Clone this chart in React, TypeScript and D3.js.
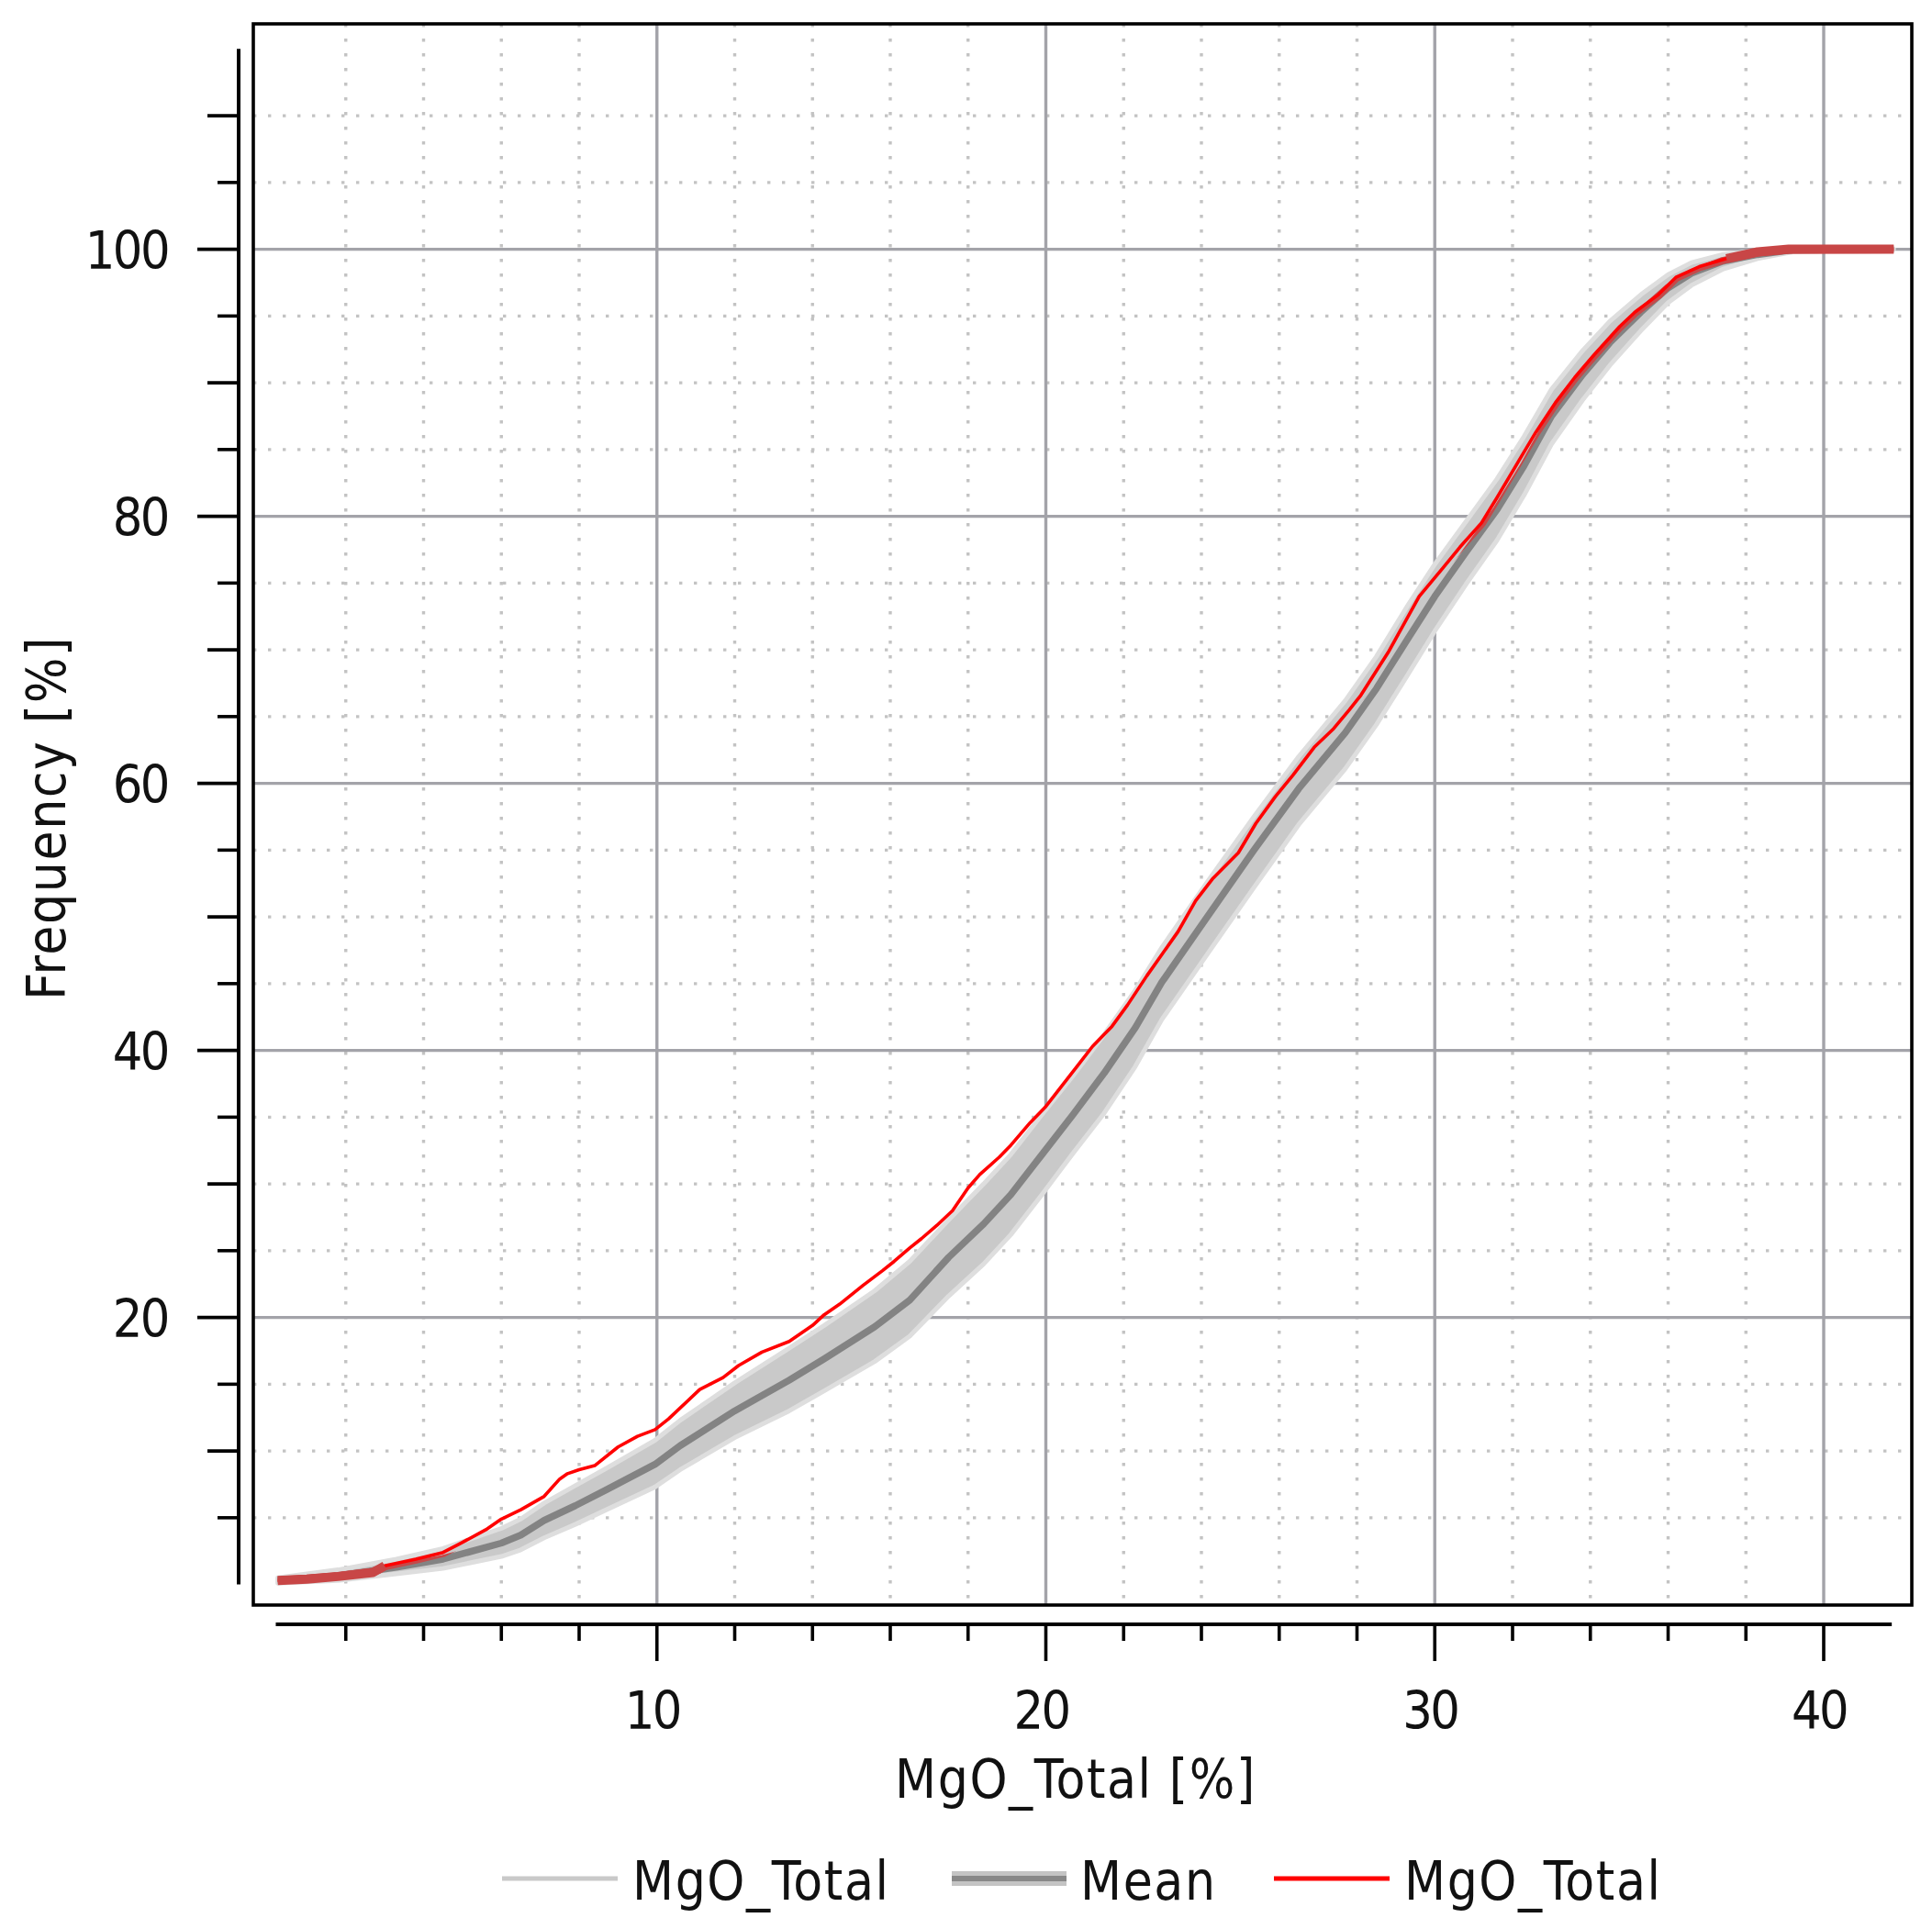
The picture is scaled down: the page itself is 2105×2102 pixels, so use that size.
import React from 'react';
import * as d3 from 'd3';

// observed cumulative frequency (red)
const redMgO = [
  0.25, 1.0, 1.8, 2.7, 3.0, 3.8, 4.5, 4.9, 5.6, 6.0, 6.5, 7.1, 7.5, 7.7, 8.0, 8.4,
  9.0, 9.5, 9.95, 10.3, 11.1, 11.7, 12.1, 12.7, 13.4, 14.0, 14.3, 14.7, 15.3, 15.8,
  16.1, 16.5, 16.8, 17.2, 17.6, 18.0, 18.3, 18.8, 19.1, 19.6, 20.0, 20.4, 20.8, 21.2,
  21.7, 22.1, 22.6, 23.4, 23.85, 24.3, 24.95, 25.4, 25.9, 26.35, 26.9, 27.4, 27.8,
  28.1, 28.8, 29.6, 30.2, 30.65, 31.2, 31.6, 32.15, 32.6, 33.1, 33.6, 34.1, 34.75,
  35.15, 35.75, 36.2, 36.8, 37.5, 38.3, 39.1, 41.8,
];
const redFreq = [
  0.3, 0.4, 0.6, 0.9, 1.4, 1.9, 2.4, 3.0, 4.1, 4.9, 5.6, 6.6, 7.9, 8.3, 8.6, 8.9,
  10.3, 11.1, 11.6, 12.4, 14.6, 15.5, 16.4, 17.4, 18.2, 19.4, 20.2, 21.0, 22.4, 23.5,
  24.2, 25.2, 25.9, 26.9, 28.0, 29.7, 30.7, 32.0, 32.9, 34.6, 35.8, 37.3, 38.8, 40.3,
  41.8, 43.4, 45.6, 48.9, 51.2, 52.9, 54.8, 57.0, 59.0, 60.6, 62.7, 64.1, 65.5,
  66.6, 69.8, 74.0, 76.1, 77.7, 79.5, 81.4, 84.1, 86.3, 88.5, 90.4, 92.1, 94.2,
  95.3, 96.6, 97.9, 98.7, 99.3, 99.8, 100, 100,
];

// simulated curves: mean and envelope of the grey bundle
const meanMgO = [
  0.25, 1.0, 1.8, 3.3, 4.5, 6.0, 6.5, 7.1, 7.9, 8.7, 9.95, 10.6, 12.0, 13.4, 14.3,
  15.6, 16.5, 17.5, 18.4, 19.1, 19.9, 20.7, 21.5, 22.3, 22.98, 24.15, 25.35, 26.5,
  27.7, 28.5, 29.3, 30.0, 30.8, 31.6, 32.3, 33.0, 33.8, 34.5, 35.3, 36.0, 36.6, 37.4,
  38.3, 39.2, 41.8,
];
const meanFreq = [
  0.3, 0.45, 0.65, 1.3, 1.9, 3.1, 3.7, 4.8, 5.9, 7.1, 9.0, 10.4, 13.0, 15.3, 16.9,
  19.3, 21.3, 24.5, 27.0, 29.2, 32.2, 35.2, 38.3, 41.7, 45.1, 50.0, 55.0, 59.6,
  63.8, 67.1, 70.8, 74.0, 77.3, 80.5, 83.8, 87.5, 90.6, 93.0, 95.3, 97.1, 98.2, 99.1,
  99.6, 99.95, 100,
];
const simLow = [
  0.1, 0.2, 0.3, 0.8, 1.2, 2.1, 2.6, 3.5, 4.5, 5.6, 7.3, 8.6, 11.0, 13.0, 14.5,
  16.7, 18.6, 21.6, 24.0, 26.2, 29.2, 32.3, 35.3, 38.8, 42.3, 47.2, 52.2, 56.9,
  61.1, 64.4, 68.1, 71.4, 74.9, 78.2, 81.6, 85.4, 88.7, 91.3, 93.9, 96.0, 97.3, 98.5,
  99.3, 99.8, 100,
];
const simHigh = [
  0.5, 0.8, 1.1, 1.9, 2.7, 4.2, 4.9, 6.1, 7.4, 8.7, 10.8, 12.3, 15.1, 17.7, 19.4,
  22.0, 24.2, 27.3, 30.0, 32.2, 35.2, 38.1, 41.2, 44.5, 47.7, 52.6, 57.5, 62.0,
  66.2, 69.5, 73.3, 76.4, 79.6, 82.8, 86.0, 89.5, 92.4, 94.6, 96.6, 98.1, 99.0, 99.6,
  99.9, 100, 100,
];

const xLabels = [10, 20, 30, 40];
const yLabels = [20, 40, 60, 80, 100];
const legendNames = ['MgO_Total', 'Mean', 'MgO_Total'];

const W = 2105;
const H = 2102;
const frame = { left: 276, top: 26, right: 2083, bottom: 1749 };
const FONT = "'DejaVu Sans Condensed', 'DejaVu Sans', sans-serif";
const TEXT = '#111';

const x = d3.scaleLinear().domain([0, 40]).range([292, 1987]);
const y = d3.scaleLinear().domain([0, 100]).range([1726.6, 271.6]);

const xMinor = d3.range(2, 40, 2).filter((v) => v % 10 !== 0);
const yMinor = d3.range(5, 111, 5).filter((v) => v % 20 !== 0);
const xTicks = d3.range(2, 41, 2);
const yTicks = d3.range(5, 111, 5);

const redPts = redMgO.map((v, i) => [v, redFreq[i]] as [number, number]);
const meanPts = meanMgO.map((v, i) => [v, meanFreq[i]] as [number, number]);
const bandPts = meanMgO.map((v, i) => ({ x: v, lo: simLow[i], hi: simHigh[i] }));

// where the observed curve sits on the mean, both blend into a thick dark red stroke
const meanAt = (v: number) => {
  const i = Math.max(1, Math.min(meanMgO.length - 1, d3.bisectLeft(meanMgO, v)));
  const t = (v - meanMgO[i - 1]) / (meanMgO[i] - meanMgO[i - 1]);
  return meanFreq[i - 1] + t * (meanFreq[i] - meanFreq[i - 1]);
};
const overlapRuns: [number, number][][] = [];
{
  let run: [number, number][] = [];
  redPts.forEach((p) => {
    if (Math.abs(p[1] - meanAt(p[0])) <= 0.25) run.push(p);
    else {
      if (run.length > 1) overlapRuns.push(run);
      run = [];
    }
  });
  if (run.length > 1) overlapRuns.push(run);
}

const line = d3
  .line<[number, number]>()
  .x((d) => x(d[0]))
  .y((d) => y(d[1]));

const area = d3
  .area<{ x: number; lo: number; hi: number }>()
  .x((d) => x(d.x))
  .y0((d) => y(d.lo))
  .y1((d) => y(d.hi));

const labelStyle = { fontSize: 57, fontStretch: 'condensed' as const, letterSpacing: -2.5 };
const titleStyle = { fontSize: 58, fontStretch: 'condensed' as const, letterSpacing: 1.6 };

export default function App() {
  const redPath = line(redPts) || '';
  const meanPath = line(meanPts) || '';
  const bandPath = area(bandPts) || '';

  const axisY = 1770;
  const axisX = 260;

  const legendY = 2047;
  const legendItems = [
    { x0: 547, x1: 673, tx: 689 },
    { x0: 1037, x1: 1162, tx: 1177 },
    { x0: 1388, x1: 1514, tx: 1530 },
  ];

  return (
    <svg
      width={W}
      height={H}
      viewBox={`0 0 ${W} ${H}`}
      style={{ position: 'absolute', left: 0, top: 0, background: '#fff' }}
      fontFamily={FONT}
    >
      <style>{'body{margin:0}'}</style>
      <defs>
        <clipPath id="plotClip">
          <rect
            x={frame.left}
            y={frame.top}
            width={frame.right - frame.left}
            height={frame.bottom - frame.top}
          />
        </clipPath>
        <mask id="meanMask" maskUnits="userSpaceOnUse" x={0} y={0} width={W} height={H}>
          <rect x={0} y={0} width={W} height={H} fill="black" />
          <path d={meanPath} fill="none" stroke="white" strokeWidth={9} />
        </mask>
      </defs>

      <rect x={0} y={0} width={W} height={H} fill="#fff" />

      {/* grid */}
      <g clipPath="url(#plotClip)">
        {xMinor.map((v) => (
          <line
            key={'xm' + v}
            x1={x(v)}
            x2={x(v)}
            y1={frame.top}
            y2={frame.bottom}
            stroke="#c3c3c3"
            strokeWidth={3.4}
            strokeDasharray="3.4 12.6"
          />
        ))}
        {yMinor.map((v) => (
          <line
            key={'ym' + v}
            x1={frame.left}
            x2={frame.right}
            y1={y(v)}
            y2={y(v)}
            stroke="#c3c3c3"
            strokeWidth={3.4}
            strokeDasharray="3.4 12.6"
          />
        ))}
        {xLabels.map((v) => (
          <line
            key={'xg' + v}
            x1={x(v)}
            x2={x(v)}
            y1={frame.top}
            y2={frame.bottom}
            stroke="#a3a3a9"
            strokeWidth={3.4}
          />
        ))}
        {yLabels.map((v) => (
          <line
            key={'yg' + v}
            x1={frame.left}
            x2={frame.right}
            y1={y(v)}
            y2={y(v)}
            stroke="#a3a3a9"
            strokeWidth={3.4}
          />
        ))}

        {/* simulated bundle */}
        <path d={bandPath} fill="#c9c9c9" stroke="#dedede" strokeWidth={5} strokeLinejoin="round" />
        <path d={meanPath} fill="none" stroke="#838383" strokeWidth={7.5} strokeLinejoin="round" />
        <path
          d={redPath}
          fill="none"
          stroke="#c64848"
          strokeWidth={10}
          strokeLinejoin="round"
          mask="url(#meanMask)"
        />
        <path d={redPath} fill="none" stroke="#ff0000" strokeWidth={3.6} strokeLinejoin="round" />
        {overlapRuns.map((run, i) => (
          <path
            key={'ov' + i}
            d={line(run) || ''}
            fill="none"
            stroke="#c84646"
            strokeWidth={10}
            strokeLinejoin="round"
          />
        ))}
      </g>

      {/* frame */}
      <rect
        x={frame.left}
        y={frame.top}
        width={frame.right - frame.left}
        height={frame.bottom - frame.top}
        fill="none"
        stroke="#000"
        strokeWidth={3.6}
      />

      {/* y axis */}
      <line x1={axisX} x2={axisX} y1={y(0)} y2={y(115)} stroke="#000" strokeWidth={4} />
      {yTicks.map((v) => {
        const len = v % 20 === 0 ? 45 : v % 10 === 0 ? 34 : 23;
        return (
          <line
            key={'yt' + v}
            x1={axisX - len}
            x2={axisX}
            y1={y(v)}
            y2={y(v)}
            stroke="#000"
            strokeWidth={3.6}
          />
        );
      })}
      {yLabels.map((v) => (
        <text key={'yl' + v} x={183} y={y(v) + 21} textAnchor="end" fill={TEXT} style={labelStyle}>
          {v}
        </text>
      ))}
      <text
        transform={`translate(71, ${(frame.top + frame.bottom) / 2 + 4}) rotate(-90)`}
        textAnchor="middle"
        fill={TEXT}
        style={titleStyle}
      >
        Frequency [%]
      </text>

      {/* x axis */}
      <line x1={x(0.2)} x2={x(41.75)} y1={axisY} y2={axisY} stroke="#000" strokeWidth={4} />
      {xTicks.map((v) => {
        const len = v % 10 === 0 ? 40 : 18;
        return (
          <line
            key={'xt' + v}
            x1={x(v)}
            x2={x(v)}
            y1={axisY}
            y2={axisY + len}
            stroke="#000"
            strokeWidth={3.6}
          />
        );
      })}
      {xLabels.map((v) => (
        <text key={'xl' + v} x={x(v) - 5} y={1884} textAnchor="middle" fill={TEXT} style={labelStyle}>
          {v}
        </text>
      ))}
      <text x={1172} y={1959} textAnchor="middle" fill={TEXT} style={titleStyle}>
        MgO_Total [%]
      </text>

      {/* legend */}
      <line
        x1={legendItems[0].x0}
        x2={legendItems[0].x1}
        y1={legendY}
        y2={legendY}
        stroke="#c9c9c9"
        strokeWidth={5}
      />
      <line
        x1={legendItems[1].x0}
        x2={legendItems[1].x1}
        y1={legendY}
        y2={legendY}
        stroke="#c4c4c4"
        strokeWidth={16}
      />
      <line
        x1={legendItems[1].x0}
        x2={legendItems[1].x1}
        y1={legendY}
        y2={legendY}
        stroke="#888"
        strokeWidth={6}
      />
      <line
        x1={legendItems[2].x0}
        x2={legendItems[2].x1}
        y1={legendY}
        y2={legendY}
        stroke="#ff0000"
        strokeWidth={5}
      />
      {legendItems.map((it, i) => (
        <text key={'lg' + i} x={it.tx} y={2070} fill={TEXT} style={titleStyle}>
          {legendNames[i]}
        </text>
      ))}
    </svg>
  );
}
